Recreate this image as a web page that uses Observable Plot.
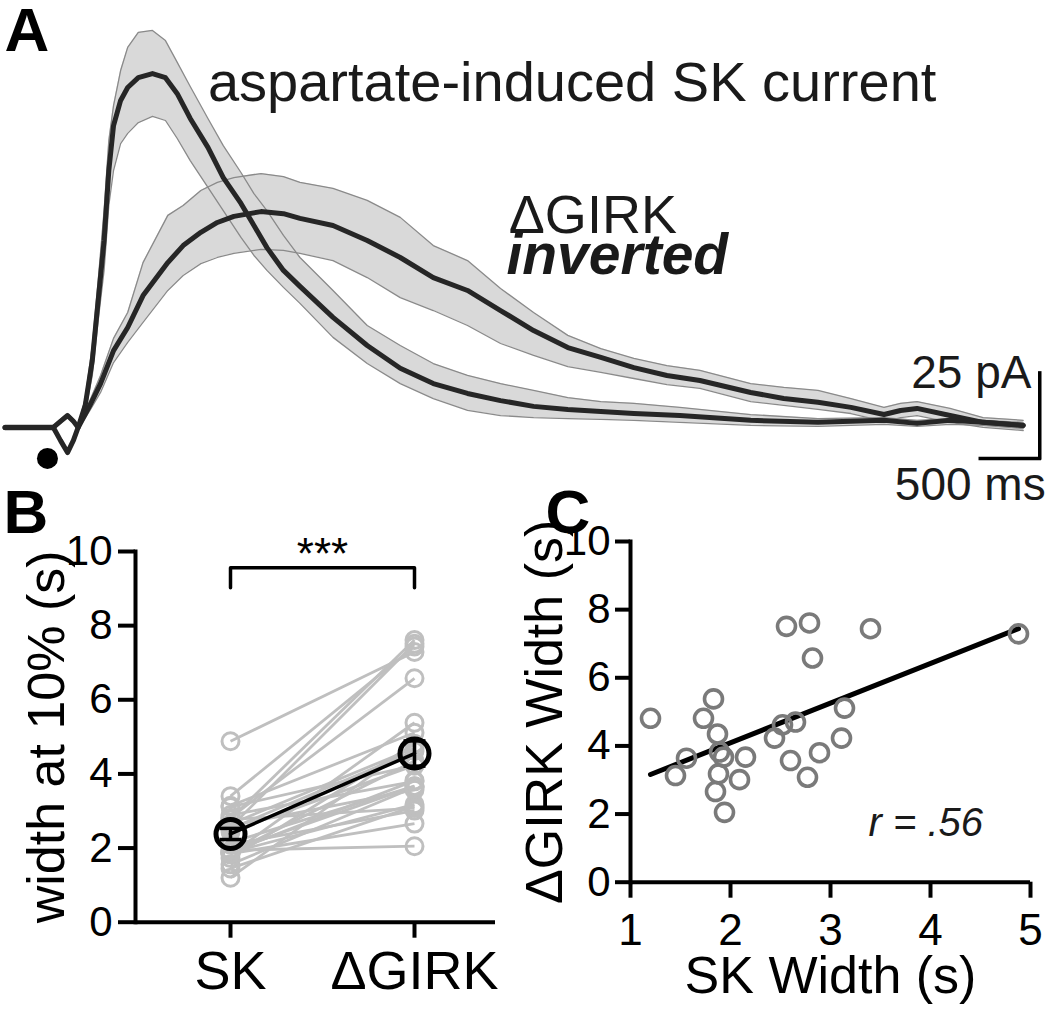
<!DOCTYPE html>
<html><head><meta charset="utf-8">
<script src="https://cdn.jsdelivr.net/npm/d3@7"></script>
<script src="https://cdn.jsdelivr.net/npm/@observablehq/plot@0.6"></script>
<style>
body{margin:0;background:#fff;}
#fig{position:relative;width:1050px;height:1015px;overflow:hidden;}
</style></head><body><div id="fig"></div>
<script>
// ---- Panel A: averaged traces (time in s from stimulus, current in pA) ----
const skTime  = [-0.53,-0.12,-0.06,0,0.05,0.09,0.15,0.21,0.26,0.31,0.35,0.39,0.45,0.51,0.60,0.72,0.83,0.93,1.04,1.19,1.32,1.47,1.58,1.69,1.83,1.97,2.25,2.54,2.82,3.10,3.39,3.67,3.95,4.24,4.52,4.80,5.19,5.79,6.36,6.92,7.20,7.48,7.76,8.10];
const skMean  = [0,0,-3.8,-7.4,-3.8,0,6.5,19.7,37.4,55.0,75.6,88.8,96.2,100.0,102.9,104.1,102.9,98.2,90.9,82.4,73.5,65.9,59.4,52.9,46.2,41.5,32.4,24.1,17.4,12.9,10.0,7.9,6.2,5.3,4.7,4.1,3.5,2.1,1.5,2.1,1.2,2.1,1.5,0.6];
const skUpper = [0.6,0.6,-3.2,-6.8,-3.2,0.6,8.5,24.1,43.2,63.8,84.4,94.7,105.0,111.8,116.2,116.8,113.8,107.4,100.3,90.9,82.9,75.0,68.8,63.8,56.5,50.0,40.3,30.0,24.1,18.8,15.3,12.9,10.9,8.8,7.6,7.1,5.9,3.8,2.6,2.9,2.1,2.6,2.1,1.5];
const skLower = [-0.6,-0.6,-4.4,-7.9,-4.4,-0.6,4.4,15.3,31.5,46.2,65.3,75.6,83.5,86.5,89.7,91.5,90.3,85.0,78.5,70.6,63.8,55.9,50.6,46.2,41.2,36.5,26.5,18.8,12.9,8.5,5.0,3.5,2.9,2.6,2.4,2.1,1.5,0.6,0.3,0.9,0.3,0.9,0.6,-0.3];

const girkTime  = [-0.53,-0.12,-0.06,0,0.05,0.09,0.19,0.28,0.39,0.51,0.64,0.85,0.98,1.13,1.27,1.41,1.64,1.83,1.97,2.25,2.54,2.82,3.10,3.39,3.67,3.95,4.24,4.52,4.80,5.08,5.36,5.79,6.07,6.36,6.64,6.92,7.06,7.20,7.48,7.76,8.10];
const girkMean  = [0,0,1.8,3.5,1.8,0,6.5,12.9,22.6,29.4,38.8,48.5,53.5,57.4,60.3,62.1,63.5,62.9,61.5,59.4,55.0,50.0,44.1,40.3,34.4,28.5,23.5,20.6,17.6,15.3,13.8,10.3,8.5,7.4,5.9,3.8,5.0,5.6,3.5,1.5,0.6];
const girkUpper = [0.6,0.6,2.4,4.1,2.4,0.6,7.9,15.3,26.2,33.8,48.5,62.4,65.3,69.7,72.1,73.5,74.7,73.8,72.1,70.3,66.8,61.8,53.5,49.1,40.9,33.8,27.1,23.2,20.3,18.2,16.8,12.9,11.8,10.9,8.5,5.9,7.1,7.6,5.6,2.9,2.1];
const girkLower = [-0.6,-0.6,1.2,2.9,1.2,-0.6,5.0,10.3,19.1,25.0,30.9,40.3,44.7,48.2,50.0,51.2,52.4,52.1,51.2,49.1,44.1,38.2,34.4,30.0,24.7,21.2,17.9,16.2,14.4,12.6,11.5,7.6,6.5,5.3,4.1,1.8,2.9,3.5,1.5,0,-0.9];

const stimMarker = [{t: -0.17, i: -9.1}];
const scaleBarTime = [7.74, 8.24];       // 500 ms
const scaleBarCurrent = [-9.1, 15.9];    // 25 pA
const traceLabels = [
  {t: 1.19, i: 101.4, text: "aspartate-induced SK current"}
];
const girkLabel = [{t: 3.74, i: 62.4, text: "ΔGIRK"}];
const invertedLabel = [{t: 3.72, i: 50.6, text: "inverted"}];
const scaleLabels = [
  {t: 8.17, i: 15.9, text: "25 pA"},
  {t: 8.29, i: -17.1, text: "500 ms"}
];

// ---- Panels B & C: width at 10% (s), paired per cell ----
const skWidth   = [1.20,1.83,1.73,1.87,1.56,1.45,1.89,1.93,2.15,1.88,2.09,1.85,1.94,2.44,2.52,2.65,2.60,2.77,2.89,3.11,3.14,2.56,2.79,2.82,3.40,4.88];
const girkWidth = [4.81,5.38,4.81,4.35,3.64,3.13,3.82,3.67,3.67,3.18,3.01,2.66,2.05,4.23,4.62,4.70,3.57,3.08,3.80,4.23,5.11,7.51,7.61,6.58,7.44,7.29];
const groups = ["SK", "ΔGIRK"];
const groupMean = [2.38, 4.55];
const groupSEM = [0.15, 0.34];
const yTicks = [0, 2, 4, 6, 8, 10];
const xTicksC = [1, 2, 3, 4, 5];
const bracket = [{g: "SK", v: 9.02}, {g: "SK", v: 9.56}, {g: "ΔGIRK", v: 9.56}, {g: "ΔGIRK", v: 9.02}];
const sigLabel = [{g: "SK", v: 9.91, text: "***"}];
const rLabel = [{x: 3.38, y: 1.72, text: "r = .56"}];

const F = '"Liberation Sans", Arial, Helvetica, sans-serif';
const fig = document.getElementById("fig");
const baseStyle = (l, t) => ({position: "absolute", left: l + "px", top: t + "px", background: "transparent", overflow: "visible", fontFamily: F, color: "black"});

// horizontal-bar symbol for error-bar caps
const capSymbol = {draw(context) { context.moveTo(-11, 0); context.lineTo(11, 0); }};

const sk = skTime.map((t, k) => ({t, m: skMean[k], hi: skUpper[k], lo: skLower[k]}));
const gk = girkTime.map((t, k) => ({t, m: girkMean[k], hi: girkUpper[k], lo: girkLower[k]}));

const plotA = Plot.plot({
  width: 1050, height: 515, margin: 0,
  x: {domain: [-0.568, 8.331], axis: null},
  y: {domain: [-25.9, 125.6], axis: null},
  style: baseStyle(0, 0),
  marks: [
    Plot.areaY(sk, {x: "t", y1: "lo", y2: "hi", fill: "#d9d9d9"}),
    Plot.areaY(gk, {x: "t", y1: "lo", y2: "hi", fill: "#d9d9d9"}),
    Plot.line(sk, {x: "t", y: "hi", stroke: "#8a8a8a", strokeWidth: 1.3}),
    Plot.line(sk, {x: "t", y: "lo", stroke: "#8a8a8a", strokeWidth: 1.3}),
    Plot.line(gk, {x: "t", y: "hi", stroke: "#8a8a8a", strokeWidth: 1.3}),
    Plot.line(gk, {x: "t", y: "lo", stroke: "#8a8a8a", strokeWidth: 1.3}),
    Plot.line(gk, {x: "t", y: "m", stroke: "#262626", strokeWidth: 5}),
    Plot.line(sk, {x: "t", y: "m", stroke: "#262626", strokeWidth: 5}),
    Plot.dot(stimMarker, {x: "t", y: "i", r: 10.5, fill: "black"}),
    Plot.ruleX([scaleBarTime[1]], {y1: scaleBarCurrent[0], y2: scaleBarCurrent[1], stroke: "black", strokeWidth: 3.5, strokeLinecap: "square"}),
    Plot.ruleY([scaleBarCurrent[0]], {x1: scaleBarTime[0], x2: scaleBarTime[1], stroke: "black", strokeWidth: 3.5, strokeLinecap: "square"}),
    Plot.text(traceLabels, {x: "t", y: "i", text: "text", textAnchor: "start", fontSize: 56, fontFamily: F, fill: "#1a1a1a"}),
    Plot.text(girkLabel, {x: "t", y: "i", text: "text", textAnchor: "start", fontSize: 54, fontFamily: F, fill: "#1a1a1a"}),
    Plot.text(invertedLabel, {x: "t", y: "i", text: "text", textAnchor: "start", fontSize: 57, fontWeight: "bold", fontStyle: "italic", fontFamily: F, fill: "#1a1a1a"}),
    Plot.text(scaleLabels, {x: "t", y: "i", text: "text", textAnchor: "end", fontSize: 46, fontFamily: F, fill: "#1a1a1a"}),
    Plot.text(["A"], {frameAnchor: "top-left", textAnchor: "start", lineAnchor: "top", dx: 4, dy: 6, fontSize: 62, fontWeight: "bold", fontFamily: F})
  ]
});
fig.appendChild(plotA);

const pairs = skWidth.map((s, k) => ({sk: s, gk: girkWidth[k]}));
const longData = [...pairs.map(p => ({g: groups[0], v: p.sk})), ...pairs.map(p => ({g: groups[1], v: p.gk}))];
const means = groups.map((g, k) => ({g, m: groupMean[k], e: groupSEM[k]}));

const plotB = Plot.plot({
  width: 520, height: 535, marginLeft: 135, marginRight: 25, marginTop: 71, marginBottom: 93.3,
  x: {type: "point", domain: groups, range: [230, 414], padding: 0},
  y: {domain: [0, 10]},
  style: baseStyle(0, 480),
  marks: [
    Plot.link(pairs, {x1: () => groups[0], y1: "sk", x2: () => groups[1], y2: "gk", stroke: "#bfbfbf", strokeWidth: 2.8}),
    Plot.dot(longData, {x: "g", y: "v", r: 8.5, stroke: "#bfbfbf", strokeWidth: 3, fill: "none"}),
    Plot.line(means, {x: "g", y: "m", stroke: "black", strokeWidth: 3.5}),
    Plot.ruleX(means, {x: "g", y1: d => d.m - d.e, y2: d => d.m + d.e, stroke: "black", strokeWidth: 3.5}),
    Plot.dot(means, {x: "g", y: d => d.m + d.e, symbol: capSymbol, stroke: "black", strokeWidth: 3.5, fill: "none"}),
    Plot.dot(means, {x: "g", y: d => d.m - d.e, symbol: capSymbol, stroke: "black", strokeWidth: 3.5, fill: "none"}),
    Plot.dot(means, {x: "g", y: "m", r: 14.5, stroke: "black", strokeWidth: 5, fill: "none"}),
    Plot.line(bracket, {x: "g", y: "v", stroke: "black", strokeWidth: 3.5}),
    Plot.text(sigLabel, {x: "g", y: "v", text: "text", dx: 92, fontSize: 44, fontFamily: F}),
    Plot.axisY(yTicks, {tickSize: 17, tickPadding: 6, fontSize: 42, strokeWidth: 4, label: null, fontFamily: F}),
    Plot.axisX({tickSize: 16, tickPadding: 12, fontSize: 54, strokeWidth: 4, label: null, fontFamily: F}),
    Plot.ruleY([0], {stroke: "black", strokeWidth: 4}),
    Plot.frame({anchor: "left", stroke: "black", strokeWidth: 4}),
    Plot.text(["width at 10% (s)"], {frameAnchor: "left", textAnchor: "middle", lineAnchor: "middle", rotate: -90, dx: -88.6, fontSize: 52, fontFamily: F}),
    Plot.text(["B"], {frameAnchor: "top-left", textAnchor: "start", lineAnchor: "top", dx: -132, dy: -63, fontSize: 62, fontWeight: "bold", fontFamily: F})
  ]
});
fig.appendChild(plotB);

const plotC = Plot.plot({
  width: 530, height: 535, marginLeft: 110, marginRight: 20, marginTop: 61, marginBottom: 133.3,
  x: {domain: [1, 5]},
  y: {domain: [0, 10]},
  style: baseStyle(520, 480),
  marks: [
    Plot.linearRegressionY(pairs, {x: "sk", y: "gk", ci: 0, stroke: "black", strokeWidth: 5}),
    Plot.dot(pairs, {x: "sk", y: "gk", r: 9, stroke: "#7a7a7a", strokeWidth: 3.6, fill: "none"}),
    Plot.axisY(yTicks, {tickSize: 15, tickPadding: 5, fontSize: 42, strokeWidth: 4, label: null, fontFamily: F}),
    Plot.axisX(xTicksC, {tickSize: 16, tickPadding: 16, fontSize: 44, strokeWidth: 4, label: null, fontFamily: F}),
    Plot.ruleY([0], {stroke: "black", strokeWidth: 4}),
    Plot.frame({anchor: "left", stroke: "black", strokeWidth: 4}),
    Plot.text(["ΔGIRK Width (s)"], {frameAnchor: "left", textAnchor: "middle", lineAnchor: "middle", rotate: -90, dx: -85, fontSize: 52, fontFamily: F}),
    Plot.text(["SK Width (s)"], {frameAnchor: "bottom", dy: 111, fontSize: 52, fontFamily: F}),
    Plot.text(rLabel, {x: "x", y: "y", text: "text", textAnchor: "start", fontStyle: "italic", fontSize: 40, fontFamily: F, fill: "#1a1a1a"}),
    Plot.text(["C"], {frameAnchor: "top-left", textAnchor: "start", lineAnchor: "top", dx: -85, dy: -53, fontSize: 62, fontWeight: "bold", fontFamily: F})
  ]
});
fig.appendChild(plotC);
</script>
</body></html>
